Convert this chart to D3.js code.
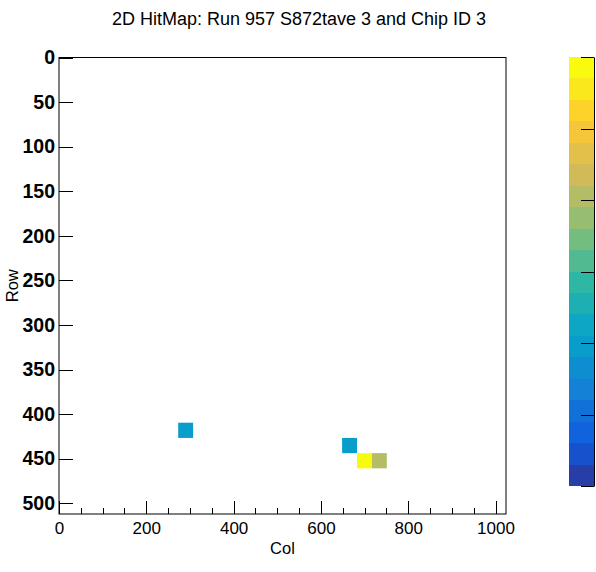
<!DOCTYPE html>
<html>
<head>
<meta charset="utf-8">
<script src="https://cdn.jsdelivr.net/npm/d3@7"></script>
<style>
	body { margin: 0; background: #fff; }
	svg { display: block; font-family: "Liberation Sans", Arial, sans-serif; }
</style>
</head>
<body>
<svg id="chart" width="596" height="572"></svg>
<script>
// histogram binning (30 x 30 bins over a 1024 x 512 chip)
var nBinsX = 30, nBinsY = 30;
var colRange = [0, 1024];
var rowRange = [0, 512];

// filled bins: column bin, row bin, number of hits
var hitColBin = [8, 19, 20, 21];
var hitRowBin = [24, 25, 26, 26];
var hitCount  = [1, 1, 3, 2];

// z axis
var zRange = [0, 3];
var nContours = 20;

// kBird palette stops
var paletteStops = [0.0000, 0.1250, 0.2500, 0.3750, 0.5000, 0.6250, 0.7500, 0.8750, 1.0000];
var paletteRed   = [0.2082, 0.0592, 0.0780, 0.0232, 0.1802, 0.5301, 0.8186, 0.9956, 0.9764];
var paletteGreen = [0.1664, 0.3599, 0.5041, 0.6419, 0.7178, 0.7492, 0.7328, 0.7862, 0.9832];
var paletteBlue  = [0.5293, 0.8684, 0.8385, 0.7914, 0.6425, 0.4662, 0.3499, 0.1968, 0.0539];

var xTicks = [0, 200, 400, 600, 800, 1000];
var yTicks = [0, 50, 100, 150, 200, 250, 300, 350, 400, 450, 500];
var zTicks = [0, 0.5, 1, 1.5, 2, 2.5, 3];

var svg = d3.select("#chart");

var frame = { left: 59, right: 506, top: 57.5, bottom: 514 };
var bar = { left: 569, right: 594, top: 57, bottom: 486 };

var x = d3.scaleLinear().domain(colRange).range([frame.left, frame.right]);
var y = d3.scaleLinear().domain(rowRange).range([frame.top, frame.bottom]);
var z = d3.scaleLinear().domain(zRange).range([bar.bottom, bar.top]);

var rScale = d3.scaleLinear().domain(paletteStops).range(paletteRed);
var gScale = d3.scaleLinear().domain(paletteStops).range(paletteGreen);
var bScale = d3.scaleLinear().domain(paletteStops).range(paletteBlue);

// colour of contour level i, picked the way ROOT picks it from 255 colours
var levelColor = function(i){
	var idx = Math.floor((i + 0.99) * 255 / nContours);
	var f = idx / 254;
	return d3.rgb(rScale(f) * 255, gScale(f) * 255, bScale(f) * 255).formatHex();
};

var levelOf = function(v){
	var lvl = Math.floor((v - zRange[0]) / (zRange[1] - zRange[0]) * nContours);
	return Math.max(0, Math.min(nContours - 1, lvl));
};

var binW = (colRange[1] - colRange[0]) / nBinsX;
var binH = (rowRange[1] - rowRange[0]) / nBinsY;

// bins
svg.append("g").selectAll("rect")
	.data(hitCount)
	.enter().append("rect")
	.attr("x", function(d, i){ return x(hitColBin[i] * binW); })
	.attr("y", function(d, i){ return y(hitRowBin[i] * binH); })
	.attr("width", function(d, i){ return x((hitColBin[i] + 1) * binW) - x(hitColBin[i] * binW); })
	.attr("height", function(d, i){ return y((hitRowBin[i] + 1) * binH) - y(hitRowBin[i] * binH); })
	.attr("fill", function(d){ return levelColor(levelOf(d)); });

// frame
svg.append("rect")
	.attr("x", frame.left).attr("y", frame.top)
	.attr("width", frame.right - frame.left).attr("height", frame.bottom - frame.top)
	.attr("fill", "none").attr("stroke", "#000").attr("stroke-width", 1);

// x axis, major and minor ticks pointing inside
var xAxis = svg.append("g")
	.attr("transform", "translate(0," + frame.bottom + ")")
	.call(d3.axisBottom(x).tickValues(xTicks).tickFormat(d3.format("d"))
		.tickSizeInner(-13).tickSizeOuter(0).tickPadding(8));
xAxis.selectAll("text").attr("font-size", 17).attr("fill", "#000").attr("font-family", null);

svg.append("g")
	.attr("transform", "translate(0," + frame.bottom + ")")
	.call(d3.axisBottom(x).tickValues(d3.range(50, 1024, 50)).tickSizeInner(-6.5).tickSizeOuter(0).tickFormat(""));

// y axis
var yAxis = svg.append("g")
	.attr("transform", "translate(" + frame.left + ",0)")
	.call(d3.axisLeft(y).tickValues(yTicks).tickFormat(d3.format("d"))
		.tickSizeInner(-14).tickSizeOuter(0).tickPadding(4));
yAxis.selectAll("text").attr("font-size", 19.5).attr("font-weight", "bold").attr("fill", "#000").attr("font-family", null);

svg.selectAll(".domain").remove();
svg.selectAll(".tick line").attr("stroke", "#000").attr("shape-rendering", "crispEdges");

// colour bar
var levels = d3.range(nContours);
var zStep = (zRange[1] - zRange[0]) / nContours;
svg.append("g").selectAll("rect")
	.data(levels)
	.enter().append("rect")
	.attr("x", bar.left)
	.attr("y", function(d){ return z(zRange[0] + (d + 1) * zStep); })
	.attr("width", bar.right - bar.left)
	.attr("height", function(d){ return z(zRange[0] + d * zStep) - z(zRange[0] + (d + 1) * zStep); })
	.attr("fill", function(d){ return levelColor(d); })
	.attr("shape-rendering", "crispEdges");

var zAxis = svg.append("g")
	.attr("transform", "translate(" + bar.right + ",0)")
	.call(d3.axisRight(z).tickValues(zTicks).tickSizeInner(-13).tickSizeOuter(0).tickFormat(""));
zAxis.select(".domain").attr("stroke", "#000");
zAxis.selectAll(".tick line").attr("stroke", "#000").attr("shape-rendering", "crispEdges");

// texts
svg.append("text")
	.attr("x", 299).attr("y", 25)
	.attr("text-anchor", "middle").attr("font-size", 18)
	.text("2D HitMap: Run 957 S872tave 3 and Chip ID 3");

svg.append("text")
	.attr("x", (frame.left + frame.right) / 2).attr("y", 554)
	.attr("text-anchor", "middle").attr("font-size", 16.5)
	.text("Col");

svg.append("text")
	.attr("transform", "translate(18," + ((frame.top + frame.bottom) / 2) + ") rotate(-90)")
	.attr("text-anchor", "middle").attr("font-size", 16.5)
	.text("Row");
</script>
</body>
</html>
